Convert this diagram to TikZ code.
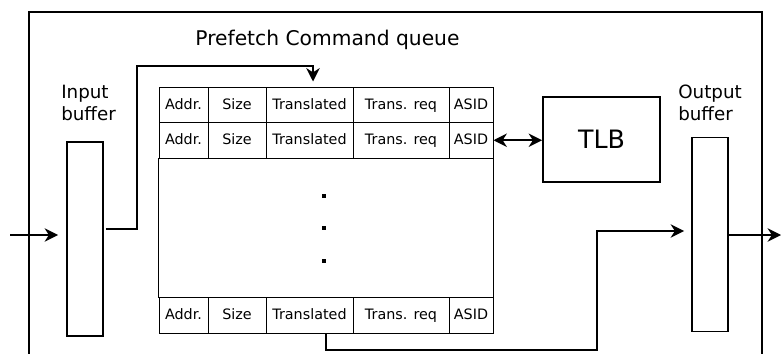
\documentclass[tikz,border=0pt]{standalone}
\usepackage{fontspec}
\setmainfont{DejaVu Sans}
\usetikzlibrary{arrows.meta,calc}

\newcommand{\pxu}{0.025cm}

\tikzset{
  frame/.style={line width=1.4pt},
  buffer/.style={draw, line width=1.4pt, inner sep=0pt,
                 minimum width=36*\pxu, minimum height=194*\pxu},
  cell/.style={draw, line width=0.7pt, inner sep=0pt, font=\fontsize{10.2}{12}\selectfont,
               text height=1.6ex, text depth=0.4ex, minimum height=35.5*\pxu},
  label/.style={font=\fontsize{13}{15.5}\selectfont, align=left, inner sep=0pt},
  conn/.style={line width=1.4pt, >={Stealth[length=9.5pt,width=9.5pt,inset=3pt]}}
}

\begin{document}
\begin{tikzpicture}[x=\pxu, y=-\pxu]
\useasboundingbox (0,0) rectangle (781,354);

% outer frame, open at the bottom
\draw[frame] (29,354) |- (762,12) -- (762,354);

\node[font=\fontsize{14.4}{16}\selectfont, anchor=base] (title) at (327.5,46) {Prefetch Command queue};

% buffers
\node[buffer] (ibuf) at (85,239) {};
\node[buffer] (obuf) at (710,234.5) {};
\node[label, anchor=west] (ilabel) at (61,103) {Input\\buffer};
\node[label, anchor=west] (olabel) at (678,103) {Output\\buffer};

% TLB
\node[draw, line width=1.4pt, minimum width=117*\pxu, minimum height=85*\pxu,
      font=\fontsize{18}{20}\selectfont] (tlb) at (601.5,139.5) {TLB};

% queue entries
\foreach \r/\y in {1/104.75, 2/140.25, 3/315.25} {
  \node[cell, minimum width=49*\pxu] (a\r) at (183.5,\y) {Addr.};
  \node[cell, minimum width=58*\pxu] (s\r) at (237,\y) {Size};
  \node[cell, minimum width=87*\pxu] (t\r) at (309.5,\y) {Translated};
  \node[cell, minimum width=96*\pxu] (r\r) at (401,\y) {Trans. req};
  \node[cell, minimum width=44*\pxu] (i\r) at (471,\y) {ASID};
}
\draw[line width=0.7pt] (a2.south west) rectangle (i3.north east);
\foreach \y in {196,228,261}
  \fill (322,\y-2) rectangle ++(4,4);

% connections
\coordinate (in) at (10,235);
\coordinate (out) at (781,235);
\draw[conn, ->, shorten >=8*\pxu] (in) -- (in -| ibuf.west);
\draw[conn, ->, shorten >=5*\pxu] ($(ibuf.east)+(2,-10)$) -| (137,66)
     -| ($(t1.north)+(3.5,0)$);
\draw[conn, <->] (i2.east) -- (tlb.west |- i2.east);
\draw[conn, ->, shorten >=7*\pxu] ($(t3.south)+(16.5,0)$) |- (597,350)
     |- (obuf.west |- 0,231);
\draw[conn, ->] (out -| obuf.east) -- (out);
\end{tikzpicture}
\end{document}
